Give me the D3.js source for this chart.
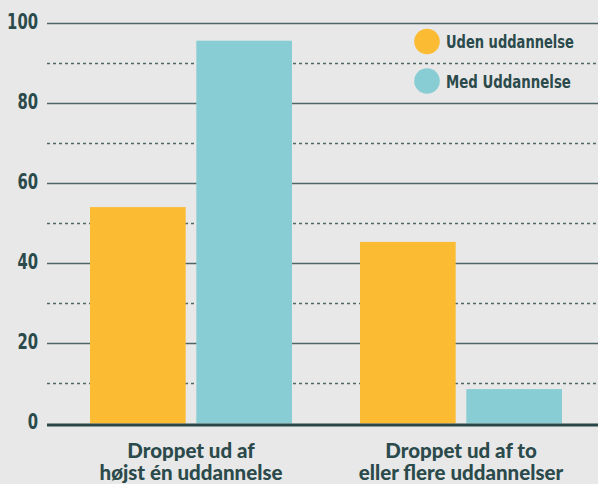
<!DOCTYPE html>
<html>
<head>
<meta charset="utf-8">
<script src="https://cdn.jsdelivr.net/npm/d3@7"></script>
<style>
  body { margin: 0; background: #e8e8e8; }
  svg { display: block; }
  .tick-label { font-family: "DejaVu Sans", sans-serif; font-weight: bold; font-size: 21px; fill: #2b4a4b; }
  .legend-label { font-family: "DejaVu Sans", sans-serif; font-weight: bold; font-size: 18.5px; fill: #2b4a4b; }
  .cat-label { font-family: Lato, "Open Sans", sans-serif; font-weight: 900; font-size: 20.5px; fill: #2b4a4b; }
</style>
</head>
<body>
<div id="chart"></div>
<script>
// data
const categories = [["Droppet ud af", "højst én uddannelse"], ["Droppet ud af to", "eller flere uddannelser"]]
const series = ["Uden uddannelse", "Med Uddannelse"]
const udenValues = [54.1, 45.4]
const medValues = [95.7, 8.6]
const majorTicks = [0, 20, 40, 60, 80, 100]
const minorTicks = [10, 30, 50, 70, 90]

const colors = ["#fbbb33", "#89cdd4"]

const w = 598, h = 484

const data = categories.map((c, i) => ({cat: i, values: [udenValues[i], medValues[i]]}))

const svg = d3.select("#chart").append("svg")
  .attr("width", w)
  .attr("height", h)

svg.append("rect").attr("width", w).attr("height", h).attr("fill", "#e8e8e8")

// squeeze a text horizontally to a given width (no condensed font installed)
function squeeze(sel, targetW, anchorX) {
  sel.each(function(d, i) {
    const t = d3.select(this)
    const nat = this.getComputedTextLength()
    const k = (typeof targetW === "function" ? targetW(d, i) : targetW) / nat
    t.attr("transform", "translate(" + anchorX + ",0) scale(" + k + ",1)")
  })
}

// scales
const y = d3.scaleLinear().domain([0, 100]).range([423.5, 23.5])

const x0 = d3.scaleBand()
  .domain(d3.range(categories.length))
  .range([56, 596])
  .paddingInner(0.252)
  .paddingOuter(0.126)

const x1 = d3.scaleBand()
  .domain(series)
  .range([0, x0.bandwidth()])
  .paddingInner(0.1)

const gridLeft = 47, gridRight = w

// gridlines
svg.selectAll(".major")
  .data(majorTicks.filter(d => d > 0))
  .enter().append("line")
  .attr("x1", gridLeft).attr("x2", gridRight)
  .attr("y1", d => y(d)).attr("y2", d => y(d))
  .attr("stroke", "#4f6767")
  .attr("stroke-width", 1.5)

svg.selectAll(".minor")
  .data(minorTicks)
  .enter().append("line")
  .attr("x1", gridLeft).attr("x2", gridRight)
  .attr("y1", d => y(d)).attr("y2", d => y(d))
  .attr("stroke", "#4f6767")
  .attr("stroke-width", 1.3)
  .attr("stroke-dasharray", "3,3")

// tick labels
svg.selectAll(".tick-label")
  .data(majorTicks)
  .enter().append("text")
  .attr("class", "tick-label")
  .attr("x", 0)
  .attr("y", d => y(d) - 2)
  .attr("dy", "0.36em")
  .attr("text-anchor", "end")
  .text(d => d)
  .call(squeeze, d => String(d).length * 10.3, 38)

// bars
const groups = svg.selectAll(".group")
  .data(data)
  .enter().append("g")
  .attr("transform", d => "translate(" + x0(d.cat) + ",0)")

groups.selectAll("rect")
  .data(d => d.values.map((v, j) => ({key: series[j], value: v, j: j})))
  .enter().append("rect")
  .attr("x", d => x1(d.key))
  .attr("width", x1.bandwidth())
  .attr("y", d => y(d.value))
  .attr("height", d => y(0) - y(d.value))
  .attr("fill", d => colors[d.j])

// baseline
svg.append("line")
  .attr("x1", gridLeft).attr("x2", gridRight)
  .attr("y1", y(0) + 1.5).attr("y2", y(0) + 1.5)
  .attr("stroke", "#2a4747")
  .attr("stroke-width", 3)

// category labels
const cats = svg.selectAll(".cat-label")
  .data(categories)
  .enter().append("text")
  .attr("class", "cat-label")
  .attr("text-anchor", "middle")
  .attr("x", (d, i) => x0(i) + x0.bandwidth() / 2)
  .attr("y", 458)

cats.selectAll("tspan")
  .data(d => d)
  .enter().append("tspan")
  .attr("x", function() { return d3.select(this.parentNode).attr("x") })
  .attr("dy", (d, i) => i === 0 ? 0 : 22)
  .text(d => d)

// legend
const legend = svg.selectAll(".legend")
  .data(series)
  .enter().append("g")
  .attr("transform", (d, i) => "translate(427," + (41.5 + i * 39.5) + ")")

legend.append("circle")
  .attr("r", 12.8)
  .attr("fill", (d, i) => colors[i])

legend.append("text")
  .attr("class", "legend-label")
  .attr("x", 0)
  .attr("dy", "0.36em")
  .text(d => d)
  .call(squeeze, (d, i) => [128, 125][i], 19)
</script>
</body>
</html>
